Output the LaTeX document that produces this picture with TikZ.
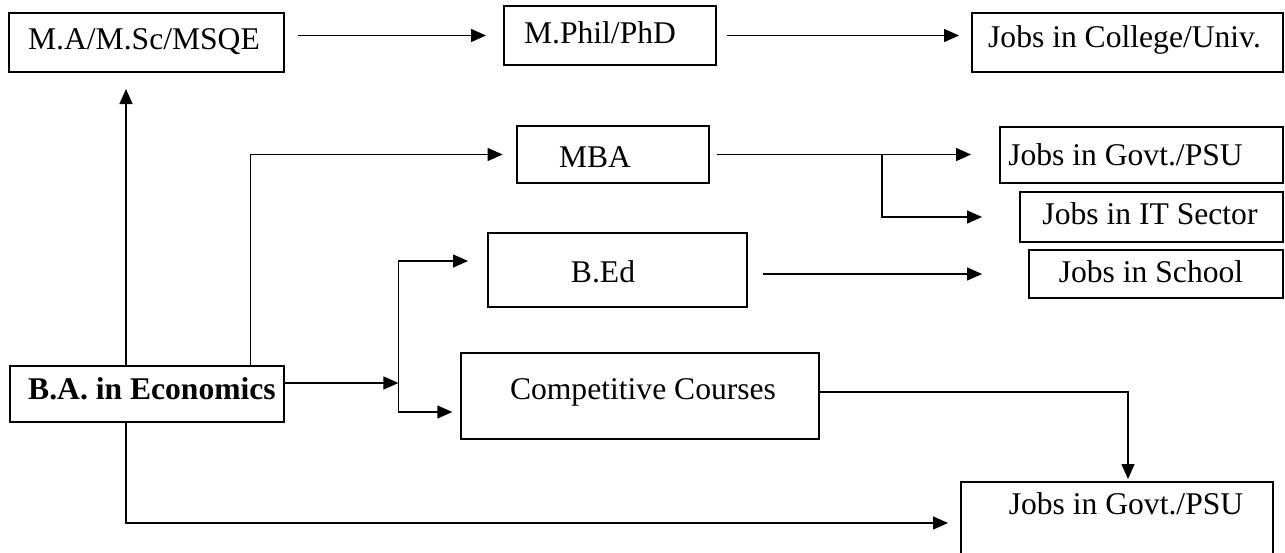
\documentclass[tikz,border=0pt]{standalone}
\usepackage{fontspec}
\setmainfont{Liberation Serif}
\usetikzlibrary{arrows.meta}
\begin{document}
\begin{tikzpicture}[x=0.5pt,y=-0.5pt,
  box/.style={draw,line width=1pt,inner sep=0pt},
  txt/.style={inner sep=0pt,text height=10.45pt,text depth=0pt,font=\fontsize{15.8}{19}\selectfont},
  arr/.style={line width=0.75pt,-{Triangle[length=7.5pt,width=6.5pt]}},
  ln/.style={line width=0.75pt}]
\useasboundingbox (0,0) rectangle (1285,552);
\clip (0,0) rectangle (1285,552);
% boxes
\node[box,minimum width=137.5pt,minimum height=29.5pt] (ma) at (146.5,42.5) {};
\node[box,minimum width=106pt,minimum height=29.5pt] (mphil) at (610,35.5) {};
\node[box,minimum width=155.5pt,minimum height=29.5pt] (college) at (1127.5,42.5) {};
\node[box,minimum width=96pt,minimum height=28.5pt] (mba) at (613,154.5) {};
\node[box,minimum width=141.5pt,minimum height=28pt] (govt1) at (1141.5,155) {};
\node[box,minimum width=131.5pt,minimum height=25pt] (it) at (1151.5,217) {};
\node[box,minimum width=127pt,minimum height=24pt] (school) at (1156,274) {};
\node[box,minimum width=129.5pt,minimum height=37pt] (bed) at (617.5,270) {};
\node[box,minimum width=137pt,minimum height=28pt] (ba) at (147,394) {};
\node[box,minimum width=179.25pt,minimum height=43pt] (cc) at (640,396) {};
\node[box,minimum width=156pt,minimum height=41pt] (govt2) at (1117,523) {};
% texts
\node[txt] (ma-t) at ([shift={(-2.5,-3.5)}]ma.center) {M.A/M.Sc/MSQE};
\node[txt] (mphil-t) at ([shift={(-10,-2.5)}]mphil.center) {M.Phil/PhD};
\node[txt] (college-t) at ([shift={(-3,-5)}]college.center) {Jobs in College/Univ.};
\node[txt] (mba-t) at ([shift={(-18,2.5)}]mba.center) {MBA};
\node[txt] (govt1-t) at ([shift={(-16,0)}]govt1.center) {Jobs in Govt./PSU};
\node[txt] (it-t) at ([shift={(-1.5,-3)}]it.center) {Jobs in IT Sector};
\node[txt] (school-t) at ([shift={(-5,-1.5)}]school.center) {Jobs in School};
\node[txt] (bed-t) at ([shift={(-14.5,2)}]bed.center) {B.Ed};
\node[txt,font=\fontsize{15.8}{19}\selectfont\bfseries] (ba-t) at ([shift={(5,-5)}]ba.center) {B.A. in Economics};
\node[txt] (cc-t) at ([shift={(3,-7)}]cc.center) {Competitive Courses};
\node[txt] (govt2-t) at ([shift={(9,-19)}]govt2.center) {Jobs in Govt./PSU};
% coordinates
\coordinate (bu) at ([xshift=-10.5pt]ba.north);
\coordinate (bd) at ([xshift=-10.5pt]ba.south);
\coordinate (bm) at ([xshift=51.8pt]ba.north);
\coordinate (mj) at ([xshift=86pt]mba.east);
\coordinate (jn) at (398.4,383);
\coordinate (jt) at (398.4,261);
\coordinate (jb) at (398.4,412);
\coordinate (gd) at ([xshift=5.5pt]govt2.north);
% connectors
\draw[arr,shorten <=6.5pt,shorten >=8.5pt] (ma.east |- mphil.west) -- (mphil.west);
\draw[arr,shorten <=5pt,shorten >=6pt] (mphil.east) -- (college.west |- mphil.east);
\draw[arr,shorten >=8pt] (bu) -- (bu |- ma.south);
\draw[arr,shorten >=6.7pt] (bm) |- (mba.west);
\draw[arr,shorten <=3.25pt,shorten >=14pt] (mba.east) -- (govt1.west |- mba.east);
\draw[arr,shorten >=18.5pt] (mj) |- (it.west);
\draw[arr,shorten <=7.5pt,shorten >=23pt] (bed.east |- school.west) -- (school.west);
\draw[arr] (ba.east |- jn) -- (jn);
\draw[arr,shorten >=9.5pt] (jn) -- (jt) -- (bed.west |- jt);
\draw[arr,shorten >=3.75pt] (jn) -- (jb) -- (cc.west |- jb);
\draw[arr,shorten >=1pt] ([yshift=2pt]cc.east) -| (gd);
\draw[arr,shorten >=6pt] (bd) |- (govt2.west);
\end{tikzpicture}
\end{document}
